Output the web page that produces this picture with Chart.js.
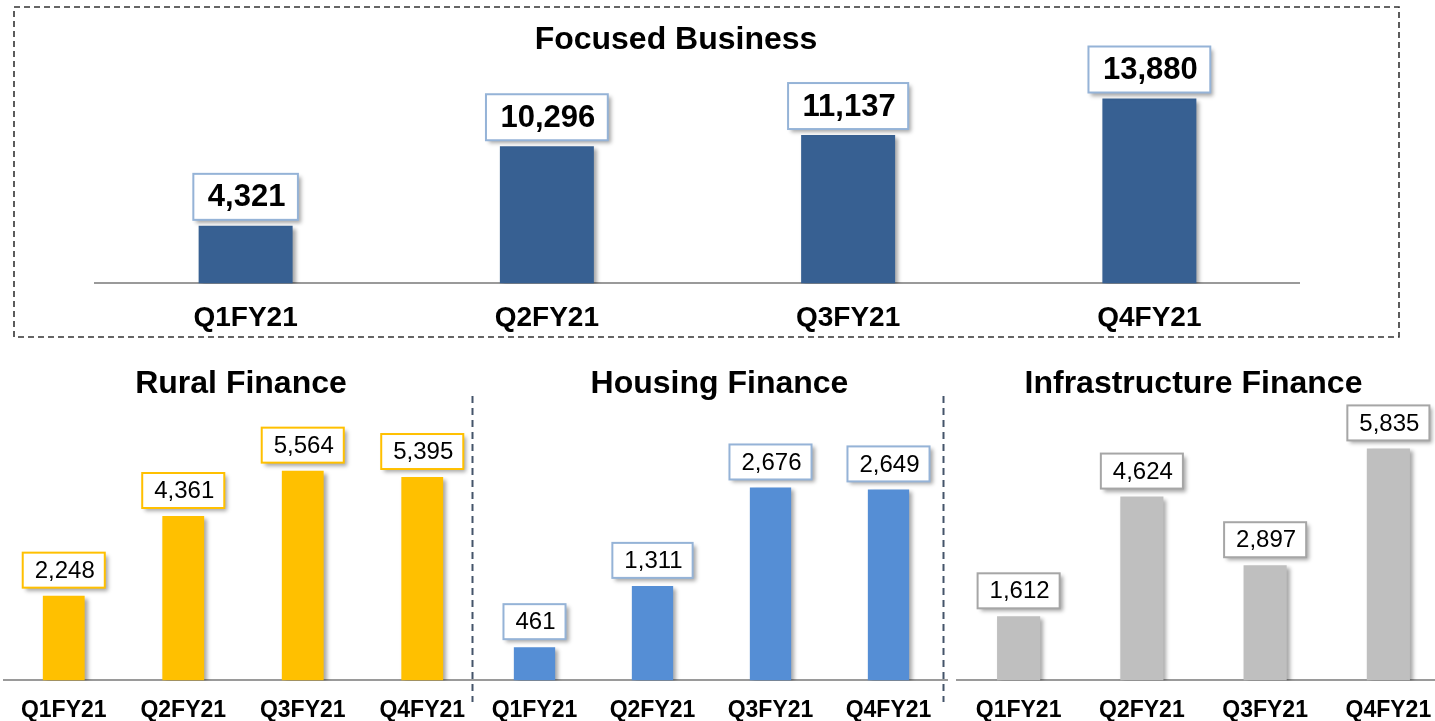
<!DOCTYPE html>
<html>
<head>
<meta charset="utf-8">
<script src="https://cdn.jsdelivr.net/npm/chart.js@4.4.1/dist/chart.umd.min.js"></script>
<style>
  html, body { margin:0; padding:0; background:#fff; width:1435px; height:721px; overflow:hidden; }
  .wrap { position:absolute; }
  svg { position:absolute; left:0; top:0; pointer-events:none; }
</style>
</head>
<body>
<div class="wrap" style="left:52px;top:10px;width:1248px;height:343px"><canvas id="cTop"></canvas></div>
<div class="wrap" style="left:0px;top:355px;width:482px;height:385px"><canvas id="cRural"></canvas></div>
<div class="wrap" style="left:470px;top:355px;width:499px;height:385px"><canvas id="cHousing"></canvas></div>
<div class="wrap" style="left:937px;top:355px;width:513px;height:385px"><canvas id="cInfra"></canvas></div>
<svg width="1435" height="721">
  <rect x="14" y="7" width="1385" height="330" fill="none" stroke="#333" stroke-width="1.6" stroke-dasharray="6 4"/>
  <line x1="472.5" y1="396" x2="472.5" y2="702" stroke="#44546A" stroke-width="2" stroke-dasharray="7 5"/>
  <line x1="943.5" y1="396" x2="943.5" y2="702" stroke="#44546A" stroke-width="2" stroke-dasharray="7 5"/>
</svg>
<script>
// data
var quarters = ["Q1FY21", "Q2FY21", "Q3FY21", "Q4FY21"];
var focusedBusiness = [4321, 10296, 11137, 13880];
var ruralFinance = [2248, 4361, 5564, 5395];
var housingFinance = [461, 1311, 2676, 2649];
var infraFinance = [1612, 4624, 2897, 5835];

var FONT = "'Liberation Sans', Arial, sans-serif";
Chart.defaults.font.family = FONT;
Chart.defaults.color = "#000";

// bar shadow + boxed value labels
var valueBoxes = {
  id: 'valueBoxes',
  beforeDatasetsDraw: function(chart) {
    var ctx = chart.ctx;
    ctx.save();
    ctx.shadowColor = 'rgba(0,0,0,0.35)';
    ctx.shadowOffsetX = 3;
    ctx.shadowOffsetY = 3;
    ctx.shadowBlur = 4;
  },
  afterDatasetsDraw: function(chart, args, o) {
    var ctx = chart.ctx;
    ctx.restore();
    var meta = chart.getDatasetMeta(0);
    var vals = chart.data.datasets[0].data;
    ctx.save();
    ctx.font = o.font;
    meta.data.forEach(function(bar, i) {
      var txt = vals[i].toLocaleString('en-US');
      var w = ctx.measureText(txt).width + 2 * o.padX;
      var x = bar.x - w / 2, y = bar.y - o.gap - o.h;
      ctx.shadowColor = 'rgba(0,0,0,0.35)';
      ctx.shadowOffsetX = 3;
      ctx.shadowOffsetY = 3;
      ctx.shadowBlur = 4;
      ctx.fillStyle = '#fff';
      ctx.fillRect(x, y, w, o.h);
      ctx.shadowColor = 'transparent';
      ctx.strokeStyle = o.border;
      ctx.lineWidth = 2;
      ctx.strokeRect(x, y, w, o.h);
      ctx.fillStyle = '#000';
      ctx.textAlign = 'center';
      ctx.textBaseline = 'middle';
      ctx.fillText(txt, bar.x + 1, y + o.h / 2 + 1);
    });
    ctx.restore();
  }
};

// invisible side axis, only used to reserve a fixed width
function spacer(pos, w) {
  return {
    position: pos,
    display: true,
    grid: { display: false, drawTicks: false },
    border: { display: false },
    ticks: { display: false },
    afterFit: function(scale) { scale.width = w; }
  };
}

function makeChart(id, title, values, s) {
  var yAxis = spacer('left', s.padL);
  yAxis.min = 0;
  yAxis.max = s.max;
  return new Chart(document.getElementById(id), {
    type: 'bar',
    data: {
      labels: quarters,
      datasets: [{
        data: values,
        backgroundColor: s.color,
        borderWidth: 0,
        categoryPercentage: 1,
        barPercentage: s.barPct,
        yAxisID: 'y'
      }]
    },
    options: {
      responsive: true,
      maintainAspectRatio: false,
      animation: false,
      events: [],
      layout: { padding: 0 },
      plugins: {
        legend: { display: false },
        tooltip: { enabled: false },
        title: {
          display: true,
          text: title,
          color: '#000',
          font: { size: 32, weight: 'bold' },
          padding: { top: s.titleTop, bottom: s.titleBottom }
        },
        valueBoxes: s.box
      },
      scales: {
        x: {
          grid: { display: false, drawTicks: false },
          border: { display: true, color: '#9a9a9a', width: 2 },
          ticks: {
            color: '#000',
            padding: s.tickPad,
            font: { size: s.tickSize, weight: 'bold' }
          }
        },
        y: yAxis,
        yR: spacer('right', s.padR)
      }
    },
    plugins: [valueBoxes]
  });
}

makeChart('cTop', 'Focused Business', focusedBusiness, {
  color: '#376092', barPct: 0.312, padL: 43, padR: 0,
  titleTop: 10.8, titleBottom: 12.4, tickSize: 28, tickPad: 18, max: 15900,
  box: { font: 'bold 31px ' + FONT, padX: 13.5, h: 46, gap: 6, border: '#95B3D7' }
});

var small = function(color, border, padL, padR, max) {
  return {
    color: color, barPct: 0.35, padL: padL, padR: padR,
    titleTop: 10.3, titleBottom: 14.7, tickSize: 23, tickPad: 16, max: max,
    box: { font: '24px ' + FONT, padX: 11, h: 35, gap: 8, border: border }
  };
};

makeChart('cRural', 'Rural Finance', ruralFinance, small('#FFC000', '#FFC000', 4, 0, 6950));
makeChart('cHousing', 'Housing Finance', housingFinance, small('#558ED5', '#95B3D7', 5.5, 21.5, 3634));
makeChart('cInfra', 'Infrastructure Finance', infraFinance, small('#BFBFBF', '#A6A6A6', 20, 0, 6590));
</script>
</body>
</html>
